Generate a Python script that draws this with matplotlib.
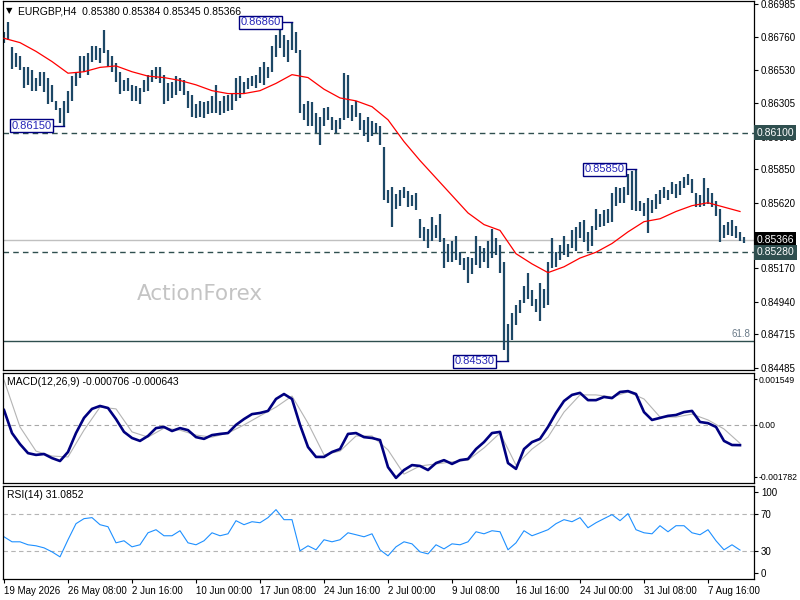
import matplotlib.pyplot as plt
import numpy as np

plt.rcParams['font.family'] = ['Liberation Sans', 'DejaVu Sans']

# ---- data (prices in 1e-4, MACD in 1e-5) ----
bar_high = np.array([
    8679, 8686, 8669, 8665, 8663, 8655, 8655, 8653, 8648, 8652,
    8652, 8648, 8643, 8632, 8627, 8632, 8639, 8649, 8651, 8663,
    8663, 8665, 8670, 8670, 8668, 8681, 8667, 8663, 8658, 8652,
    8646, 8648, 8643, 8642, 8641, 8646, 8650, 8653, 8655, 8655,
    8650, 8644, 8645, 8649, 8648, 8646, 8639, 8636, 8630, 8632,
    8631, 8632, 8635, 8643, 8632, 8635, 8636, 8637, 8648, 8649,
    8645, 8648, 8649, 8650, 8655, 8659, 8655, 8670, 8677, 8681,
    8677, 8674, 8686, 8679, 8667, 8630, 8632, 8631, 8624, 8621,
    8627, 8628, 8621, 8619, 8620, 8651, 8650, 8629, 8632, 8624,
    8619, 8621, 8618, 8617, 8615, 8600, 8571, 8573, 8568, 8571,
    8573, 8570, 8567, 8569, 8551, 8545, 8544, 8552, 8547, 8554,
    8538, 8534, 8536, 8539, 8528, 8524, 8525, 8524, 8539, 8532,
    8531, 8536, 8544, 8538, 8533, 8521, 8479, 8486, 8492, 8495,
    8505, 8514, 8502, 8496, 8507, 8503, 8521, 8538, 8528, 8533,
    8539, 8534, 8543, 8545, 8549, 8550, 8542, 8546, 8558, 8554,
    8557, 8558, 8569, 8573, 8572, 8573, 8582, 8584, 8585, 8563,
    8562, 8565, 8564, 8568, 8571, 8573, 8571, 8576, 8575, 8577,
    8580, 8582, 8578, 8569, 8567, 8579, 8572, 8569, 8563, 8558,
    8547, 8549, 8550, 8546, 8542, 8538.4]) / 1e4

bar_low = np.array([
    8672, 8674, 8654, 8655, 8653, 8641, 8643, 8639, 8639, 8642,
    8638, 8630, 8631, 8626, 8617, 8615, 8624, 8632, 8642, 8648,
    8652, 8650, 8659, 8660, 8658, 8665, 8655, 8652, 8645, 8637,
    8639, 8639, 8632, 8632, 8630, 8638, 8639, 8645, 8647, 8644,
    8630, 8632, 8634, 8636, 8639, 8636, 8627, 8621, 8620, 8621,
    8620, 8623, 8624, 8624, 8622, 8624, 8625, 8626, 8632, 8634,
    8637, 8640, 8642, 8641, 8644, 8643, 8648, 8652, 8662, 8668,
    8662, 8659, 8667, 8665, 8624, 8619, 8615, 8615, 8610, 8602,
    8615, 8619, 8612, 8610, 8613, 8619, 8620, 8618, 8621, 8612,
    8608, 8604, 8608, 8610, 8602, 8564, 8562, 8545, 8558, 8560,
    8565, 8559, 8560, 8557, 8538, 8536, 8531, 8536, 8538, 8535,
    8517, 8521, 8521, 8523, 8519, 8516, 8507, 8513, 8519, 8517,
    8521, 8517, 8524, 8526, 8514, 8461, 8453, 8468, 8478, 8486,
    8493, 8496, 8491, 8487, 8481, 8490, 8492, 8517, 8518, 8523,
    8526, 8525, 8531, 8529, 8538, 8535, 8529, 8532, 8543, 8545,
    8546, 8548, 8549, 8560, 8562, 8562, 8567, 8557, 8556, 8556,
    8553, 8541, 8555, 8558, 8561, 8565, 8564, 8568, 8565, 8567,
    8572, 8574, 8569, 8559, 8559, 8560, 8561, 8559, 8553, 8535,
    8538, 8540, 8539, 8538, 8536, 8534.5]) / 1e4

ma_values = np.array([
    8675, 8672, 8666, 8659, 8651, 8652, 8655, 8656, 8652, 8649,
    8648, 8646, 8643, 8639, 8637, 8637, 8639, 8644, 8650, 8648,
    8640, 8634, 8632, 8628, 8619, 8604, 8591, 8579, 8567, 8555,
    8547, 8543, 8527, 8520, 8514, 8518, 8524, 8528, 8534, 8542,
    8549, 8551, 8556, 8560, 8562, 8559, 8556]) / 1e4

macd_values = np.array([
    50, -29, -67, -98, -104, -101, -115, -125, -94, -29,
    23, 54, 64, 57, 19, -25, -46, -56, -39, -12,
    -8, -22, -12, -19, -43, -49, -36, -32, -29, -1,
    19, 36, 40, 47, 88, 105, 88, -1, -77, -111,
    -111, -94, -84, -32, -29, -43, -46, -53, -146, -183,
    -156, -139, -142, -156, -132, -122, -135, -122, -118, -84,
    -60, -29, -25, -132, -152, -84, -60, -49, -8, 40,
    81, 102, 109, 84, 84, 95, 91, 112, 115, 105,
    43, 16, 23, 30, 33, 43, 47, 9, 5, -8,
    -56, -70, -70.6]) / 1e5

signal_values = np.array([
    153, -8, -91, -108, -111, -19, 60, 54, -25, -43,
    -12, -19, -36, -43, -29, -1, 30, 60, 98, 5,
    -104, -91, -39, -39, -87, -170, -142, -135, -128, -122,
    -80, -29, -139, -84, -43, 43, 102, 102, 95, 112,
    88, 26, 26, 36, 16, -15, -64.3]) / 1e5

rsi_values = [
    45.4, 40.0, 40.0, 36.8, 35.7, 33.5, 29.2, 23.8, 42.2, 59.5,
    64.9, 66.0, 58.4, 56.2, 38.9, 41.1, 34.6, 36.8, 49.7, 53.0,
    46.5, 46.5, 51.9, 38.9, 36.8, 41.1, 49.7, 46.5, 48.6, 62.7,
    58.4, 61.6, 60.5, 66.0, 74.6, 63.8, 63.8, 30.3, 35.7, 31.4,
    42.2, 40.0, 42.2, 49.7, 47.6, 45.4, 48.6, 31.4, 24.9, 34.6,
    40.0, 37.8, 29.2, 27.0, 36.8, 32.4, 37.8, 36.8, 40.0, 50.8,
    48.6, 51.9, 50.8, 31.4, 38.9, 51.9, 46.5, 49.7, 53.0, 59.5,
    63.8, 61.6, 66.0, 55.1, 60.5, 64.9, 69.2, 62.7, 70.3, 53.0,
    49.7, 48.6, 57.3, 50.8, 57.3, 57.3, 49.7, 47.6, 53.0, 41.1,
    31.4, 36.8, 31.1]

date_labels = ['19 May 2026', '26 May 08:00', '2 Jun 16:00', '10 Jun 00:00',
               '17 Jun 08:00', '24 Jun 16:00', '2 Jul 00:00', '9 Jul 08:00',
               '16 Jul 16:00', '24 Jul 00:00', '31 Jul 08:00', '7 Aug 16:00']
price_ticks = [0.86985, 0.86760, 0.86530, 0.86305, 0.86075, 0.85850,
               0.85620, 0.85395, 0.85170, 0.84940, 0.84715, 0.84485]
macd_ticks = [0.001549, 0.0, -0.001782]
macd_tick_labels = ['0.001549', '0.00', '-0.001782']

resistance = 0.86100
support = 0.85280
last_price = 0.85366
fib_level = 0.84670

# swing labels: (bar index, price)
swings = {'0.86860': (72, 0.86860), '0.86150': (15, 0.86150),
          '0.85850': (158, 0.85850), '0.84530': (126, 0.84530)}
swing_box_right = {'0.86860': 69.5, '0.86150': 12.3, '0.85850': 155.5, '0.84530': 123.0}

title = 'EURGBP,H4  0.85380 0.85384 0.85345 0.85366'
macd_title = 'MACD(12,26,9) -0.000706 -0.000643'
rsi_title = 'RSI(14) 31.0852'

bar_color = '#1d4866'
slate = '#2f4f4f'

bar_idx = np.arange(len(bar_high))
ma_idx = np.arange(0, len(bar_high), 4)
line_idx = np.arange(0, len(bar_high), 2)

fig = plt.figure(figsize=(8, 6), dpi=100)
ax = fig.add_axes([3 / 800, 1 - 370 / 600, 751 / 800, 369 / 600])
ax_macd = fig.add_axes([3 / 800, 1 - 483 / 600, 751 / 800, 110 / 600])
ax_rsi = fig.add_axes([3 / 800, 1 - 579 / 600, 751 / 800, 93 / 600])

for a in (ax, ax_macd, ax_rsi):
    a.set_xlim(-0.25, 187.5)
    for s in a.spines.values():
        s.set_color('black')
        s.set_linewidth(0.9)
    a.yaxis.tick_right()
    a.tick_params(axis='y', length=3, pad=2, labelsize=7, colors='black')
    a.set_xticks([])

# ---- main price panel ----
ax.set_ylim(0.84471, 0.87006)
ax.axhline(resistance, color=slate, lw=1, ls=(0, (4, 3)), zorder=1)
ax.axhline(support, color=slate, lw=1, ls=(0, (4, 3)), zorder=1)
ax.axhline(last_price, color='#c0c0c0', lw=1, zorder=1)
ax.axhline(fib_level, color=slate, lw=1, zorder=1)
ax.text(0.995, fib_level + 0.00012, '61.8', transform=ax.get_yaxis_transform(),
        ha='right', va='bottom', fontsize=7, color='#6a7a88')

ax.text(33.3, 0.8499, 'ActionForex', family='DejaVu Sans', fontsize=15.5,
        color='#c4c4c4', ha='left', va='center', zorder=0)

ax.vlines(bar_idx, bar_low, bar_high, color=bar_color, lw=1.6, zorder=2)
ax.plot(ma_idx, ma_values, color='#ff0000', lw=0.9, zorder=3)

for label, (bi, price) in swings.items():
    right = swing_box_right[label]
    ax.plot([right, bi], [price, price], color='#000080', lw=1, zorder=4)
    ax.text(right - 0.4, price, label, ha='right', va='center', fontsize=8,
            color='#2626b8', zorder=5,
            bbox=dict(boxstyle='square,pad=0.12', fc='white', ec='#000080', lw=1))

ax.set_yticks(price_ticks)
ax.set_yticklabels([f'{p:.5f}' for p in price_ticks])

tr = ax.get_yaxis_transform()
for price, fc in [(resistance, slate), (last_price, 'black'), (support, slate)]:
    ax.text(1.003, price, f'{price:.5f}', transform=tr, ha='left', va='center',
            fontsize=7.5, color='white', clip_on=False, zorder=6,
            bbox=dict(boxstyle='square,pad=0.25', fc=fc, ec='none'))

# ---- MACD panel ----
ax_macd.set_ylim(-0.002005, 0.001772)
ax_macd.axhline(0, color='#a8a8a8', lw=0.8, ls=(0, (4, 3)))
ax_macd.plot(ma_idx, signal_values, color='#b4b4b4', lw=0.8)
ax_macd.plot(line_idx, macd_values, color='#000080', lw=1.9)
ax_macd.set_yticks(macd_ticks)
ax_macd.set_yticklabels(macd_tick_labels)
ax_macd.tick_params(axis='y', length=2, pad=1, labelsize=6.2)

# ---- RSI panel ----
ax_rsi.set_ylim(0, 100)
ax_rsi.axhline(70, color='#b4b4b4', lw=0.8, ls=(0, (4, 3)))
ax_rsi.axhline(30, color='#b4b4b4', lw=0.8, ls=(0, (4, 3)))
ax_rsi.plot(line_idx, rsi_values, color='#1e90ff', lw=0.8)
ax_rsi.set_yticks([94, 70, 30, 6])
ax_rsi.set_yticklabels(['100', '70', '30', '0'])

ax_rsi.set_xticks(np.arange(0, 16 * len(date_labels), 16))
ax_rsi.set_xticklabels(date_labels)
ax_rsi.tick_params(axis='x', length=3, pad=2, labelsize=7)
for lbl in ax_rsi.get_xticklabels():
    lbl.set_ha('left')

fig.text(6 / 800, 1 - 11 / 600, '\u25bc', family='DejaVu Sans', fontsize=6, va='center')
fig.text(18 / 800, 1 - 11 / 600, title, fontsize=7.5, va='center')
fig.text(7 / 800, 1 - 382 / 600, macd_title, fontsize=7.5, va='center')
fig.text(7 / 800, 1 - 495 / 600, rsi_title, fontsize=7.5, va='center')

fig.savefig('out.png', dpi=100, facecolor='white')
